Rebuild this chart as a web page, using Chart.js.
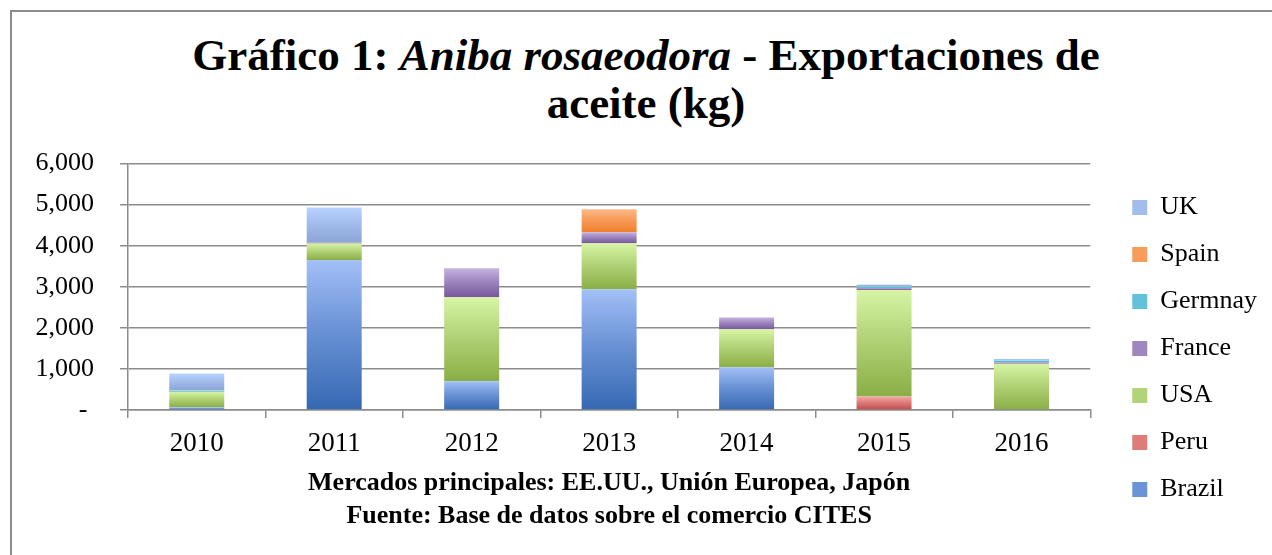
<!DOCTYPE html>
<html lang="es">
<head>
  <meta charset="UTF-8">
  <title>Gráfico 1: Aniba rosaeodora - Exportaciones de aceite (kg)</title>
  <script src="https://cdn.jsdelivr.net/npm/chart.js"></script>
  <style>
    html, body {
      margin: 0;
      padding: 0;
      width: 1272px;
      height: 555px;
      overflow: hidden;
      background: #fff;
    }
    #frame {
      position: absolute;
      left: 10px;
      top: 10px;
      width: 1400px;
      height: 700px;
      border-left: 2px solid #8c8c8c;
      border-top: 2px solid #8c8c8c;
    }
    #title {
      position: absolute;
      left: 12px;
      width: 1268px;
      top: 31px;
      text-align: center;
      font-family: "Liberation Serif", serif;
      font-weight: bold;
      font-size: 45px;
      line-height: 48px;
      color: #000;
    }
    #chartBox {
      position: absolute;
      left: 12px;
      top: 122px;
    }
  </style>
</head>
<body>
  <div id="frame"></div>
  <div id="title">Gráfico 1: <i>Aniba rosaeodora</i> - Exportaciones de<br>aceite (kg)</div>
  <div id="chartBox">
    <canvas id="chart" width="1260" height="433"></canvas>
  </div>

  <script>
    // datos (kg)
    const years = ['2010', '2011', '2012', '2013', '2014', '2015', '2016'];
    const brazil = [65, 3650, 700, 2940, 1040, 0, 0];
    const peru = [0, 0, 0, 0, 0, 330, 0];
    const usa = [380, 405, 2045, 1120, 925, 2590, 1125];
    const france = [0, 30, 705, 270, 290, 55, 40];
    const germany = [30, 0, 0, 0, 0, 45, 45];
    const spain = [0, 0, 0, 560, 0, 0, 0];
    const uk = [415, 845, 0, 0, 0, 35, 30];

    const yMax = 6000;
    const yStep = 1000;

    const series = [
      { label: 'Brazil', data: brazil, light: '#a3c0f7', dark: '#3568b2', mid: '#6b93d6' },
      { label: 'Peru', data: peru, light: '#f5a8a6', dark: '#bf4b48', mid: '#dd7c79' },
      { label: 'USA', data: usa, light: '#d7f5a5', dark: '#8aae46', mid: '#b2d377' },
      { label: 'France', data: france, light: '#c5b3de', dark: '#75579b', mid: '#9e86bf' },
      { label: 'Germnay', data: germany, light: '#95def2', dark: '#36a0bd', mid: '#62c2db' },
      { label: 'Spain', data: spain, light: '#fdb988', dark: '#f07f2b', mid: '#f79c5a' },
      { label: 'UK', data: uk, light: '#b9d3ff', dark: '#8ba6d6', mid: '#a2bdec' }
    ];

    // degradado vertical por segmento, claro arriba y oscuro abajo
    function segmentFill(s) {
      return function(ctx) {
        if (ctx.type !== 'data') return s.mid;
        const chart = ctx.chart;
        const y = chart.scales.y;
        if (!chart.chartArea || !y) return s.mid;
        let start = 0;
        for (let i = 0; i < ctx.datasetIndex; i++) {
          start += chart.data.datasets[i].data[ctx.dataIndex];
        }
        const v = s.data[ctx.dataIndex];
        const top = y.getPixelForValue(start + v);
        const bottom = y.getPixelForValue(start);
        if (!isFinite(top) || !isFinite(bottom) || bottom - top < 1) return s.mid;
        const g = chart.ctx.createLinearGradient(0, top, 0, bottom);
        g.addColorStop(0, s.light);
        g.addColorStop(0.45, s.mid);
        g.addColorStop(1, s.dark);
        return g;
      };
    }

    const gridColor = '#8c8c8c';
    const serif = '"Liberation Serif", serif';

    const ctx = document.getElementById('chart').getContext('2d');
    const chart = new Chart(ctx, {
      type: 'bar',
      data: {
        labels: years,
        datasets: series.map(s => ({
          label: s.label,
          data: s.data,
          backgroundColor: segmentFill(s),
          borderWidth: 0,
          barPercentage: 0.4,
          categoryPercentage: 1
        }))
      },
      options: {
        responsive: false,
        animation: false,
        layout: {
          padding: { top: 20, right: 5, bottom: 0, left: 0 }
        },
        plugins: {
          legend: {
            position: 'right',
            reverse: true,
            labels: {
              boxWidth: 15,
              boxHeight: 15,
              padding: 21,
              color: '#000',
              font: { family: serif, size: 26 },
              generateLabels: function(c) {
                const items = Chart.defaults.plugins.legend.labels.generateLabels(c);
                items.forEach(it => { it.fillStyle = series[it.datasetIndex].mid; });
                return items;
              }
            }
          },
          tooltip: { enabled: false }
        },
        scales: {
          x: {
            stacked: true,
            grid: {
              display: true,
              drawOnChartArea: false,
              drawTicks: true,
              tickLength: 8,
              color: gridColor,
              lineWidth: 1.5
            },
            border: { color: gridColor, width: 1.5 },
            ticks: {
              color: '#000',
              padding: 10,
              font: { family: serif, size: 27 }
            },
            title: {
              display: true,
              text: ['Mercados principales: EE.UU., Unión Europea, Japón',
                     'Fuente: Base de datos sobre el comercio CITES'],
              color: '#000',
              font: { family: serif, size: 26, weight: 'bold', lineHeight: 1.27 },
              padding: { top: 0, bottom: 22 }
            },
            afterFit: function(s) { s.height = 145; }
          },
          y: {
            stacked: true,
            min: 0,
            max: yMax,
            grid: {
              color: gridColor,
              lineWidth: 1.5,
              drawTicks: true,
              tickLength: 8
            },
            border: { color: gridColor, width: 1.5 },
            ticks: {
              stepSize: yStep,
              padding: 26,
              color: '#000',
              font: { family: serif, size: 26 },
              callback: function(v) {
                return v === 0 ? '- ' : v.toLocaleString('en-US');
              }
            },
            afterFit: function(s) { s.width = 116; }
          },
          gap: {
            position: 'right',
            display: true,
            grid: { display: false },
            border: { display: false },
            ticks: { display: false },
            afterFit: function(s) { s.width = 21; }
          }
        }
      }
    });
  </script>
</body>
</html>
